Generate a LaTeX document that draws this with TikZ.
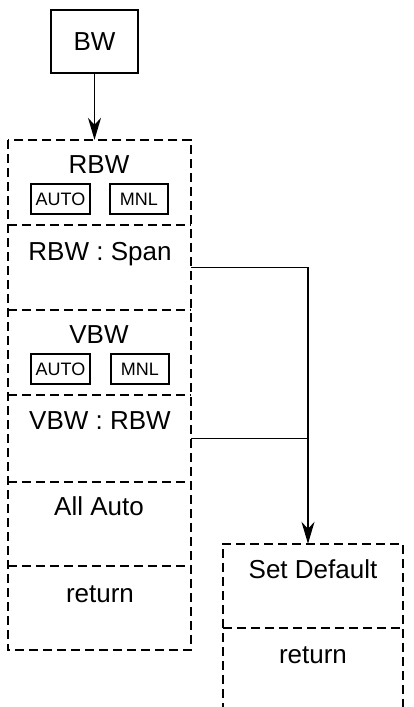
\documentclass[tikz,border=0pt]{standalone}
\usepackage{fontspec}
\setmainfont{Liberation Sans}
\usetikzlibrary{arrows.meta}

\begin{document}
\begin{tikzpicture}[x=1pt, y=-1pt]
    % Define colours
    \definecolor{borderColour}{HTML}{000000}
    \definecolor{paperColour}{HTML}{FFFFFF}

    % Define styles
    \tikzset{
        menuLine/.style={draw=borderColour, line width=2.2pt, dash pattern=on 9pt off 5pt},
        wire/.style={draw=borderColour, line width=1.8pt},
        link/.style={wire, -{Stealth[length=22pt, width=13pt, inset=7pt]}},
        menuRow/.style={rectangle, inner sep=0pt, minimum width=183pt},
        label/.style={inner sep=0pt, anchor=base, font=\fontsize{26}{30}\selectfont},
        softKey/.style={draw=borderColour, line width=2.2pt, inner sep=0pt, minimum height=30pt, font=\fontsize{18}{20}\selectfont}
    }

    % Fix the page size
    \useasboundingbox[fill=paperColour] (0,0) rectangle (414,707);

    % Draw the hard key
    \node[draw=borderColour, line width=2.2pt, inner sep=0pt, minimum width=87pt, minimum height=63pt, font=\fontsize{26}{30}\selectfont] (bwKey) at (94.5,41.5) {BW};

    % Define the rows of the BW menu
    \node[menuRow, minimum height=85pt] (rbwRow) at (99.5,182.5) {};
    \node[menuRow, minimum height=85pt] (spanRow) at (99.5,267.5) {};
    \node[menuRow, minimum height=85pt] (vbwRow) at (99.5,352.5) {};
    \node[menuRow, minimum height=87pt] (vrRow) at (99.5,438.5) {};
    \node[menuRow, minimum height=84pt] (autoRow) at (99.5,524) {};
    \node[menuRow, minimum height=84pt] (retRow) at (99.5,608) {};

    % Draw the BW menu
    \draw[menuLine] (rbwRow.north west) rectangle (retRow.south east);
    \foreach \row in {rbwRow, spanRow, vbwRow, vrRow, autoRow}
        \draw[menuLine] (\row.south west) -- (\row.south east);

    % Label the BW menu
    \node[label] (rbwText) at (99,173) {RBW};
    \node[softKey, minimum width=59pt] (rbwAuto) at (60.5,199) {AUTO};
    \node[softKey, minimum width=58pt] (rbwMnl) at (139,199) {MNL};
    \node[label] (spanText) at (100,260) {RBW : Span};
    \node[label] (vbwText) at (99,343) {VBW};
    \node[softKey, minimum width=59pt] (vbwAuto) at (60.5,369) {AUTO};
    \node[softKey, minimum width=58pt] (vbwMnl) at (140,369) {MNL};
    \node[label] (vrText) at (100,429) {VBW : RBW};
    \node[label] (autoText) at (99,515) {All Auto};
    \node[label] (retText) at (100,602) {return};

    % Define the rows of the sub menu
    \node[menuRow, minimum width=180pt, minimum height=84pt] (setRow) at (313,586) {};
    \node[menuRow, minimum width=180pt, minimum height=84pt] (subRetRow) at (313,670) {};

    % Draw the sub menu, open at the bottom
    \draw[menuLine] (subRetRow.south west) |- (setRow.north east) -- (subRetRow.south east);
    \draw[menuLine] (setRow.south west) -- (setRow.south east);

    % Label the sub menu
    \node[label] (setText) at (313,578) {Set Default};
    \node[label] (subRetText) at (313,663) {return};

    % Draw the connectors
    \draw[link] (bwKey.south) -- (bwKey.south |- rbwRow.north);
    \draw[link] (spanRow.east) -| ([xshift=-5pt]setRow.north);
    \draw[wire] (vrRow.east) -- ([xshift=-5pt]setRow.north |- vrRow.east);

\end{tikzpicture}
\end{document}
